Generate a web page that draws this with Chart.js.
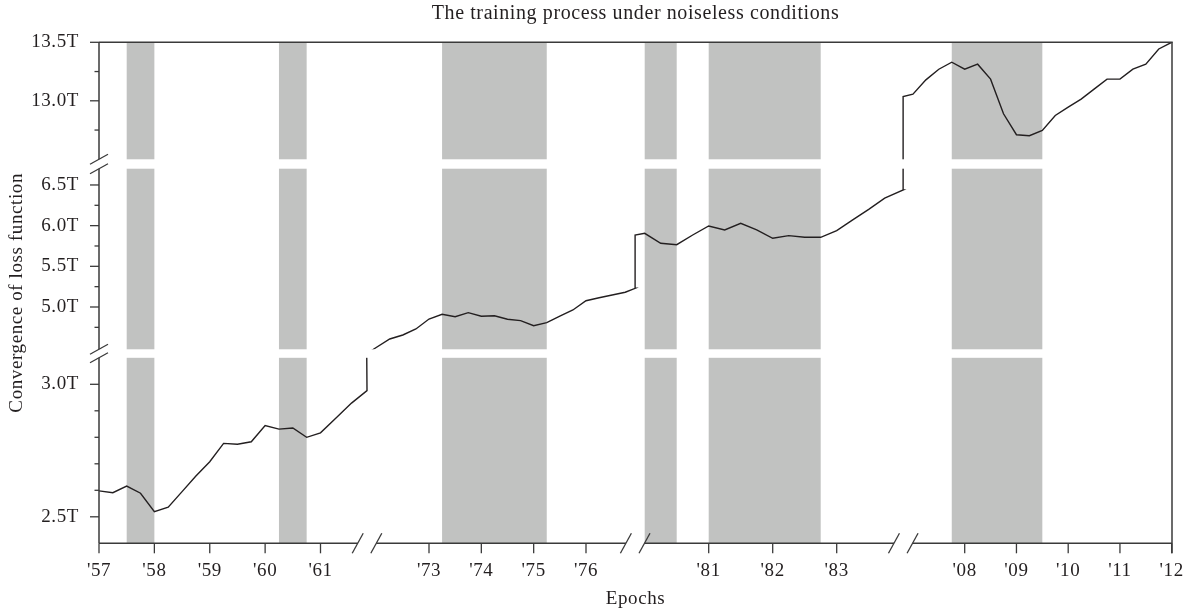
<!DOCTYPE html>
<html><head><meta charset="utf-8">
<script src="https://cdn.jsdelivr.net/npm/chart.js@4"></script>
<style>html,body{margin:0;padding:0;background:#fff}canvas{display:block}</style>
</head><body>
<canvas id="c" width="1193" height="611"></canvas>
<script>
// ---------------- DATA ----------------
const yearsA  = [1957, 1957.25, 1957.5, 1957.75, 1958, 1958.25, 1958.5, 1958.75, 1959, 1959.25, 1959.5, 1959.75, 1960, 1960.25, 1960.5, 1960.75, 1961, 1961.28, 1961.56, 1961.84];
const valuesA = [2.598, 2.591, 2.616, 2.589, 2.519, 2.536, 2.595, 2.654, 2.708, 2.777, 2.774, 2.783, 2.844, 2.831, 2.835, 2.800, 2.817, 2.873, 2.929, 2.976];

const yearsB  = [1971.81, 1972.25, 1972.5, 1972.75, 1973, 1973.25, 1973.5, 1973.75, 1974, 1974.25, 1974.5, 1974.75, 1975, 1975.25, 1975.5, 1975.75, 1976, 1976.25, 1976.5, 1976.75, 1976.94];
const valuesB = [4.428, 4.607, 4.656, 4.730, 4.852, 4.910, 4.881, 4.930, 4.886, 4.893, 4.849, 4.832, 4.770, 4.807, 4.889, 4.963, 5.077, 5.114, 5.148, 5.181, 5.230];

const yearsC  = [1979.85, 1980, 1980.25, 1980.5, 1980.75, 1981, 1981.25, 1981.5, 1981.75, 1982, 1982.25, 1982.5, 1982.75, 1983, 1983.25, 1983.5, 1983.75, 1984.04];
const valuesC = [5.885, 5.906, 5.783, 5.766, 5.885, 5.996, 5.947, 6.029, 5.947, 5.845, 5.877, 5.857, 5.857, 5.938, 6.070, 6.200, 6.337, 6.439];

const yearsD  = [2006.81, 2007, 2007.25, 2007.5, 2007.75, 2008, 2008.25, 2008.5, 2008.75, 2009, 2009.25, 2009.5, 2009.75, 2010, 2010.25, 2010.5, 2010.75, 2011, 2011.25, 2011.5, 2011.75, 2012];
const valuesD = [13.037, 13.057, 13.179, 13.270, 13.330, 13.270, 13.313, 13.185, 12.889, 12.710, 12.702, 12.747, 12.875, 12.946, 13.014, 13.100, 13.185, 13.185, 13.270, 13.313, 13.443, 13.500];

// shaded periods
const shadeStarts = [1957.5, 1960.25, 1973.25, 1980.0, 1981.0, 2007.75];
const shadeEnds   = [1958.0, 1960.75, 1975.25, 1980.5, 1982.75, 2009.5];

// x tick years
const xTicksA = [1957, 1958, 1959, 1960, 1961];
const xTicksB = [1973, 1974, 1975, 1976];
const xTicksC = [1981, 1982, 1983];
const xTicksD = [2008, 2009, 2010, 2011, 2012];

// y ticks (labelled) and minor ticks per panel
const yTicksBottom = [2.5, 3.0];
const yTicksMiddle = [5.0, 5.5, 6.0, 6.5];
const yTicksTop    = [13.0, 13.5];
const yMinorBottom = [2.6, 2.7, 2.8, 2.9];
const yMinorMiddle = [4.75, 5.25, 5.75, 6.25];
const yMinorTop    = [12.75, 13.25];

const titleText = 'The training process under noiseless conditions';
const xTitleText = 'Epochs';
const yTitleText = 'Convergence of loss function';

// ---------------- LAYOUT (broken axes) ----------------
const FONT = 'Liberation Serif';
const INK = '#231f20';
const AXIS = '#3a3a3a';
const BAND = '#c1c2c1';
const SPACING = '0.6px';

// x segments: two anchor years -> virtual units
const X_SEGS = [
  {upTo: 1965, y1: 1957, v1: 0,     y2: 1961, v2: 221.5, end: 1961.84},
  {upTo: 1978, y1: 1973, v1: 330,   y2: 1976, v2: 487,   end: 1976.94},
  {upTo: 1995, y1: 1981, v1: 609.7, y2: 1983, v2: 737.7, end: 1984.04},
  {upTo: 9999, y1: 2008, v1: 865.7, y2: 2012, v2: 1072.7}
];
function xv(year) {
  const s = X_SEGS.find(g => year < g.upTo);
  return s.v1 + (year - s.y1) * (s.v2 - s.v1) / (s.y2 - s.y1);
}
// y panels: value range -> virtual units
const PANELS = {
  bottom: {lo: 2.4,  hi: 3.1,  v1: 0,   v2: 185.5},
  middle: {lo: 4.48, hi: 6.7,  v1: 194, v2: 374.6},
  top:    {lo: 12.5, hi: 13.5, v1: 384, v2: 501}
};
function yv(val, p) { return p.v1 + (val - p.lo) * (p.v2 - p.v1) / (p.hi - p.lo); }
const Y_GAPS = [[PANELS.bottom.v2, PANELS.middle.v1], [PANELS.middle.v2, PANELS.top.v1]];

// build points
const points = [];
function addSeg(years, vals, panel) { years.forEach((yr, i) => points.push({x: xv(yr), y: yv(vals[i], panel)})); }
addSeg(yearsA, valuesA, PANELS.bottom);
addSeg(yearsB, valuesB, PANELS.middle);
addSeg(yearsC, valuesC, PANELS.middle);
addSeg(yearsD, valuesD, PANELS.top);

const xTickYears = [...xTicksA, ...xTicksB, ...xTicksC, ...xTicksD];
const yTickList = [
  ...yTicksBottom.map(v => ({v: yv(v, PANELS.bottom), label: v.toFixed(1) + 'T'})),
  ...yTicksMiddle.map(v => ({v: yv(v, PANELS.middle), label: v.toFixed(1) + 'T'})),
  ...yTicksTop.map(v => ({v: yv(v, PANELS.top), label: v.toFixed(1) + 'T'}))
];
const yMinorList = [
  ...yMinorBottom.map(v => yv(v, PANELS.bottom)),
  ...yMinorMiddle.map(v => yv(v, PANELS.middle)),
  ...yMinorTop.map(v => yv(v, PANELS.top))
];
const xBreaks = X_SEGS.filter(s => s.end).map(s => xv(s.end));

function seg(ctx, x0, y0, x1, y1) { ctx.beginPath(); ctx.moveTo(x0, y0); ctx.lineTo(x1, y1); ctx.stroke(); }

const brokenAxes = {
  id: 'brokenAxes',
  beforeUpdate(chart) { chart.ctx.letterSpacing = SPACING; },
  beforeLayout(chart) { chart.ctx.letterSpacing = SPACING; },
  beforeDraw(chart) { chart.ctx.letterSpacing = SPACING; },
  beforeDatasetsDraw(chart) {
    const {ctx, chartArea: a, scales: {x}} = chart;
    ctx.save();
    ctx.fillStyle = BAND;
    shadeStarts.forEach((s, i) => {
      const x0 = x.getPixelForValue(xv(s)), x1 = x.getPixelForValue(xv(shadeEnds[i]));
      ctx.fillRect(x0, a.top, x1 - x0, a.bottom - a.top);
    });
    ctx.restore();
  },
  afterDatasetsDraw(chart) {
    const {ctx, chartArea: a, scales: {x, y}} = chart;
    ctx.save();
    ctx.fillStyle = '#fff';
    const edges = [];
    Y_GAPS.forEach(([g0, g1]) => {
      const p0 = y.getPixelForValue(g0), p1 = y.getPixelForValue(g1);
      ctx.fillRect(a.left + 1, p1, a.right - a.left - 2, p0 - p1);
      edges.push([p1, p0]);
    });
    ctx.strokeStyle = AXIS;
    ctx.lineWidth = 1.5;
    seg(ctx, a.left, a.top, a.right + 0.75, a.top);
    seg(ctx, a.right, a.top, a.right, a.bottom + 10);
    const ys = [a.top];
    edges.slice().reverse().forEach(([p1, p0]) => { ys.push(p1, p0); });
    ys.push(a.bottom);
    for (let i = 0; i < ys.length; i += 2) seg(ctx, a.left, ys[i], a.left, ys[i + 1]);
    ctx.lineWidth = 1.3;
    edges.forEach(([p1, p0]) => {
      [p1, p0].forEach(p => seg(ctx, a.left - 9, p + 5, a.left + 9, p - 5));
    });
    ctx.lineWidth = 1.5;
    const xs = [a.left];
    xBreaks.forEach(b => { const p = x.getPixelForValue(b); xs.push(p - 9.3, p + 9.3); });
    xs.push(a.right);
    for (let i = 0; i < xs.length; i += 2) seg(ctx, xs[i], a.bottom, xs[i + 1], a.bottom);
    ctx.lineWidth = 1.3;
    xBreaks.forEach(b => {
      const p = x.getPixelForValue(b);
      [p - 9.3, p + 9.3].forEach(sx => seg(ctx, sx - 5.5, a.bottom + 10, sx + 5.5, a.bottom - 10));
    });
    xTickYears.forEach(yr => { const p = x.getPixelForValue(xv(yr)); seg(ctx, p, a.bottom, p, a.bottom + 10); });
    yTickList.forEach(t => { const p = y.getPixelForValue(t.v); seg(ctx, a.left - 9, p, a.left, p); });
    yMinorList.forEach(v => { const p = y.getPixelForValue(v); seg(ctx, a.left - 4.5, p, a.left, p); });
    ctx.restore();
  }
};

const tickFont = {family: FONT, size: 19};
new Chart(document.getElementById('c'), {
  type: 'line',
  data: {datasets: [{
    data: points, borderColor: INK, borderWidth: 1.4, pointRadius: 0, tension: 0, fill: false
  }]},
  options: {
    responsive: false, animation: false,
    layout: {padding: {left: 0, right: 21, top: 0, bottom: 0}},
    plugins: {
      legend: {display: false}, tooltip: {enabled: false},
      title: {display: true, text: titleText, fullSize: false, color: INK,
              font: {family: FONT, size: 20, weight: 'normal'}, padding: {top: 2, bottom: 16.3}}
    },
    scales: {
      x: {
        type: 'linear', min: 0, max: 1073,
        afterBuildTicks: s => { s.ticks = xTickYears.map(yr => ({value: xv(yr)})); },
        afterFit: s => { s.height = 67.7; s.paddingLeft = 0; s.paddingRight = 0; },
        ticks: {autoSkip: false, maxRotation: 0, minRotation: 0, padding: 16, color: INK, font: tickFont,
                callback: (v, i) => "'" + String(xTickYears[i]).slice(2)},
        grid: {display: false, drawTicks: false},
        border: {display: false},
        title: {display: true, text: xTitleText, color: INK, font: tickFont, padding: {top: 0, bottom: 1}}
      },
      y: {
        type: 'linear', min: 0, max: 501,
        afterBuildTicks: s => { s.ticks = yTickList.map(t => ({value: t.v})); },
        afterFit: s => { s.width = 99; s.paddingTop = 0; s.paddingBottom = 0; },
        ticks: {autoSkip: false, padding: 20, color: INK, font: tickFont,
                callback: (v, i) => yTickList[i].label},
        grid: {display: false, drawTicks: false},
        border: {display: false},
        title: {display: true, text: yTitleText, color: INK, font: tickFont, padding: {top: 6, bottom: 0}}
      }
    }
  },
  plugins: [brokenAxes]
});
</script>
</body></html>
